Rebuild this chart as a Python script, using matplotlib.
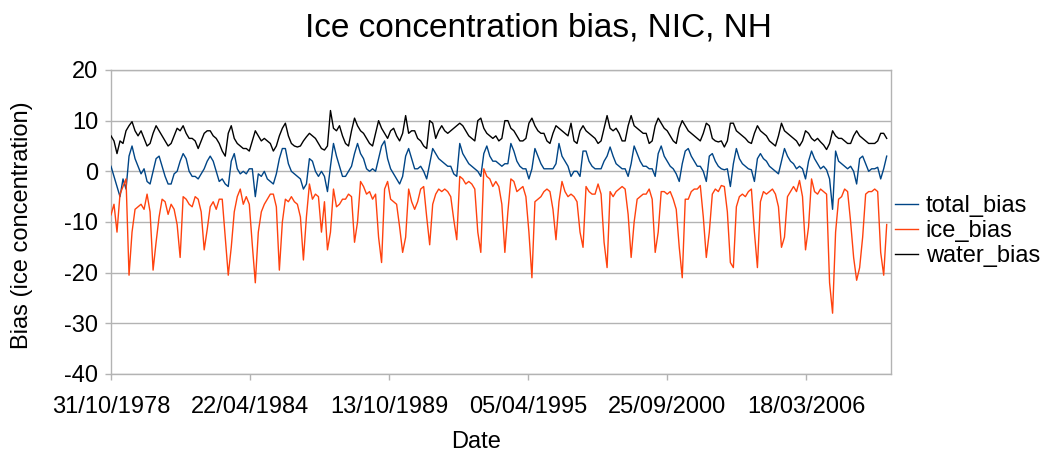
import pandas as pd
import matplotlib
matplotlib.use("Agg")
import matplotlib.pyplot as plt
import matplotlib.dates as mdates

# samples, evenly spaced from 31/10/1978 to 16/05/2009
start_date = "1978-10-31"
end_date = "2009-05-16"

water_bias = [
    7.0, 6.0, 3.5, 6.0, 5.5, 8.0, 9.0, 9.8, 8.0, 7.0, 8.0, 6.5, 5.0, 5.5, 7.5, 9.0, 8.0, 7.0, 6.0, 5.0, 5.5, 7.0, 8.5, 8.0, 9.0, 7.5, 6.5, 6.5, 6.0, 4.5, 6.0, 7.5, 8.0,
    8.0, 7.0, 6.5, 5.5, 4.0, 3.0, 7.5, 9.0, 6.5, 5.5, 5.0, 4.5, 4.5, 4.0, 6.0, 8.0, 7.0, 6.0, 6.5, 6.0, 5.5, 4.0, 5.0, 7.0, 8.5, 9.5, 7.0, 5.5, 5.0, 4.8, 5.0, 6.0,
    6.8, 7.5, 7.0, 6.5, 5.5, 4.5, 4.2, 5.0, 12.0, 8.5, 8.0, 9.0, 7.0, 5.5, 5.0, 8.0, 10.5, 9.0, 8.0, 7.5, 6.5, 5.5, 5.0, 7.5, 10.0, 8.5, 7.5, 6.5, 8.0, 8.5, 7.0, 6.0, 7.5,
    11.0, 7.5, 8.0, 8.0, 6.5, 6.0, 5.0, 4.5, 10.0, 9.5, 6.5, 8.0, 9.0, 8.0, 7.5, 8.0, 8.5, 9.0, 9.5, 9.0, 8.0, 7.0, 6.5, 6.0, 10.0, 10.5, 8.5, 7.5, 7.0, 6.5, 7.0, 6.0, 6.5,
    10.0, 10.0, 8.5, 8.0, 7.0, 6.0, 6.0, 6.5, 9.5, 10.5, 9.0, 8.0, 7.5, 7.5, 6.0, 5.5, 7.5, 9.0, 8.5, 8.0, 7.5, 7.0, 9.5, 6.0, 5.5, 8.0, 9.0, 8.0, 7.5, 7.0, 6.5, 5.5,
    6.0, 8.5, 11.0, 8.5, 8.0, 8.5, 7.5, 6.0, 6.0, 9.0, 11.0, 9.0, 8.5, 8.0, 7.5, 7.5, 5.5, 6.0, 9.0, 10.5, 9.5, 8.5, 8.0, 7.0, 6.0, 5.5, 8.5, 10.0, 9.0, 8.0, 7.5, 7.0, 6.5,
    6.0, 7.5, 9.5, 9.0, 6.5, 6.0, 5.8, 6.0, 4.8, 6.0, 9.5, 9.5, 8.0, 7.5, 7.0, 6.5, 5.8, 5.5, 7.5, 9.0, 8.0, 7.5, 7.0, 6.0, 5.5, 5.0, 7.0, 9.5, 8.0, 7.5, 7.0, 6.5, 6.0,
    5.0, 6.0, 8.0, 7.5, 6.5, 6.0, 6.5, 5.8, 5.2, 4.3, 5.5, 8.0, 7.0, 6.5, 6.5, 6.0, 5.5, 5.5, 7.0, 8.0, 7.0, 6.5, 6.0, 5.5, 5.5, 5.5, 6.0, 7.5, 7.5, 6.5,
]

total_bias = [
    1.0, -1.0, -3.0, -5.0, -1.5, -3.5, 3.0, 5.0, 2.5, 1.0, -0.5, 0.5, -2.0, -2.5, 0.0, 2.5, 3.0, 1.0, -1.0, -2.5, -2.5, -0.5, 0.0, 2.0, 3.5, 2.5, 0.0, -1.0, -1.0, -1.5, -0.5, 0.5, 2.0,
    3.0, 2.0, 0.0, -2.0, -1.5, -2.5, -3.0, 2.0, 3.5, 0.5, -0.5, 0.0, -0.5, 0.5, 0.5, -5.0, -0.5, -1.0, 0.0, -1.5, -2.0, -2.5, -0.5, 2.5, 4.5, 4.5, 1.5, 0.0, -0.5, -1.0, -1.5, -3.5,
    -2.5, 2.5, 2.0, 0.0, -1.0, 0.0, -1.0, -4.0, 1.0, 5.5, 3.0, 1.0, -1.0, -1.0, 0.0, 1.0, 3.5, 5.5, 3.5, 2.5, 0.5, 0.0, 0.5, 0.0, 2.5, 5.0, 6.0, 2.5, 0.5, -0.5, -1.5, -2.5, -1.0,
    3.0, 4.5, 2.5, 0.5, 0.5, 1.0, 0.0, -1.5, 1.5, 4.5, 3.5, 2.5, 2.0, 1.5, 1.0, 1.0, -0.5, -1.0, 5.5, 3.5, 2.5, 1.5, 1.0, 0.5, 0.0, -1.0, 3.5, 5.0, 3.0, 2.0, 2.0, 1.5, 1.0,
    1.5, 1.5, 5.5, 4.0, 2.0, 1.0, 0.5, 0.5, -1.5, 0.5, 4.5, 3.0, 1.5, 0.5, 0.5, 0.5, 0.5, 1.5, 5.5, 3.0, 2.0, 1.0, -1.0, 0.0, 0.0, -1.0, 4.0, 4.0, 2.0, 1.0, 0.5, 0.5,
    0.5, 2.0, 3.0, 4.8, 3.0, 1.5, 1.0, 0.5, 0.5, -1.0, 1.5, 5.0, 3.5, 2.0, 1.0, 1.0, 0.5, 0.5, -1.0, 3.5, 5.0, 3.0, 2.0, 1.0, 0.5, -0.5, -2.0, 1.5, 4.0, 4.5, 3.0, 2.0, 1.0,
    1.0, 0.0, -2.0, 3.0, 3.5, 2.0, 1.0, 0.5, 0.3, 0.5, -3.0, 1.5, 4.5, 2.5, 1.5, 1.0, 0.5, 0.3, -2.0, 2.5, 3.5, 2.5, 2.0, 1.0, 0.5, 0.0, -0.5, 2.0, 4.5, 3.0, 2.0, 1.5, 0.5,
    1.0, 0.5, -1.5, 2.0, 4.0, 2.5, 1.5, 0.5, 1.0, 0.3, -1.5, -7.5, 4.0, 2.0, 1.5, 1.0, 0.5, 1.0, 0.0, -2.5, 2.5, 3.0, 1.5, 0.0, 0.5, 0.5, 0.8, -1.5, 0.5, 3.0,
]

ice_bias = [
    -8.6, -6.5, -12.0, -4.5, -3.0, -1.5, -20.5, -12.0, -7.5, -7.0, -6.5, -7.5, -4.5, -8.0, -19.5, -14.0, -9.0, -5.5, -6.0, -8.5, -6.5, -7.5, -10.5, -17.0, -5.0, -5.5, -6.5, -7.0, -5.0, -5.5, -8.0, -15.5, -11.5,
    -7.0, -6.0, -7.5, -5.5, -5.5, -13.0, -20.5, -15.0, -8.0, -5.0, -3.5, -6.5, -5.0, -6.5, -14.5, -22.0, -12.0, -8.0, -6.5, -5.5, -4.5, -4.5, -7.0, -19.5, -10.0, -5.5, -6.0, -5.0, -6.0, -6.5, -9.0, -17.5,
    -9.0, -2.5, -5.5, -4.5, -5.0, -12.0, -6.0, -15.5, -12.0, -3.5, -7.0, -6.5, -5.5, -5.5, -4.5, -5.0, -14.0, -10.0, -2.0, -3.0, -4.5, -4.0, -5.5, -4.5, -13.0, -18.0, -3.5, -2.0, -5.5, -6.0, -6.5, -11.0, -16.0,
    -13.0, -3.5, -6.0, -7.5, -6.0, -3.5, -3.0, -9.0, -14.5, -6.5, -4.5, -3.5, -4.0, -3.5, -4.0, -5.0, -9.5, -13.5, -1.0, -1.5, -2.5, -2.0, -2.5, -3.5, -12.0, -16.0, 0.5, -1.0, -1.5, -3.0, -2.0, -3.0, -6.5,
    -16.0, -8.0, -1.5, -2.0, -4.0, -3.5, -3.0, -5.0, -12.0, -21.0, -6.0, -5.5, -5.0, -4.0, -3.5, -4.0, -7.5, -13.5, -6.0, -2.0, -4.0, -5.0, -4.5, -5.0, -6.0, -12.0, -15.0, -3.0, -4.0, -4.5, -4.5, -2.5,
    -4.5, -14.0, -19.0, -4.0, -5.0, -4.0, -3.5, -3.0, -3.5, -8.5, -17.0, -10.0, -5.5, -5.0, -4.5, -4.5, -3.5, -5.5, -16.0, -12.0, -4.0, -4.0, -4.5, -4.0, -5.5, -7.5, -15.0, -21.0, -5.5, -5.5, -4.0, -3.5, -3.5,
    -2.8, -9.0, -17.0, -12.0, -4.5, -3.5, -4.0, -2.8, -3.0, -8.0, -18.0, -19.0, -7.0, -5.0, -4.5, -5.0, -4.0, -3.5, -12.0, -19.0, -6.0, -4.0, -4.5, -4.0, -3.5, -4.5, -7.0, -15.0, -13.0, -5.0, -4.0, -3.0, -4.0,
    -1.8, -5.0, -15.5, -11.0, -1.5, -4.0, -4.5, -3.5, -4.0, -4.5, -22.0, -28.0, -12.0, -5.5, -5.0, -3.5, -4.0, -10.0, -17.0, -21.5, -19.0, -13.0, -4.5, -4.0, -4.0, -3.5, -4.0, -16.0, -20.5, -10.5,
]

tick_dates = ["1978-10-31", "1984-04-22", "1989-10-13", "1995-04-05", "2000-09-25", "2006-03-18"]
x_end = "2009-07-13"

GRID = "#b3b3b3"


def main():
    plt.rcParams["font.family"] = ["Liberation Sans", "DejaVu Sans"]
    plt.rcParams["axes.unicode_minus"] = False
    dates = pd.date_range(start_date, end_date, periods=len(water_bias))

    fig = plt.figure(figsize=(10.55, 4.53), dpi=100)
    ax = fig.add_axes([0.1052, 0.1744, 0.7391, 0.6711])

    ax.plot(dates, total_bias, color="#004586", lw=1.0, label="total_bias", zorder=3)
    ax.plot(dates, ice_bias, color="#ff420e", lw=1.0, label="ice_bias", zorder=3)
    ax.plot(dates, water_bias, color="black", lw=1.0, label="water_bias", zorder=4)

    ax.set_ylim(-40, 20)
    ax.set_yticks(range(-40, 21, 10))
    ax.set_xlim(pd.Timestamp(start_date), pd.Timestamp(x_end))
    ticks = pd.to_datetime(tick_dates)
    ax.set_xticks(ticks)
    ax.xaxis.set_major_formatter(mdates.DateFormatter("%d/%m/%Y"))

    ax.grid(axis="y", color=GRID, lw=1.0)
    ax.set_axisbelow(True)
    for s in ax.spines.values():
        s.set_color(GRID)
        s.set_linewidth(1.0)
    ax.tick_params(axis="both", colors=GRID, labelcolor="black", labelsize=17, length=4, width=1.0)
    ax.tick_params(axis="x", pad=12)
    ax.tick_params(axis="y", pad=5)

    fig.text(0.51, 0.938, "Ice concentration bias, NIC, NH", ha="center", va="center", fontsize=24)
    fig.text(0.451, 0.024, "Date", ha="center", va="center", fontsize=17)
    fig.text(0.021, 0.503, "Bias (ice concentration)", ha="center", va="center", rotation=90, fontsize=17)

    fig.legend(loc="center left", bbox_to_anchor=(0.837, 0.49), frameon=False, fontsize=17,
               handlelength=1.0, handletextpad=0.3, labelspacing=0.12, borderpad=0)

    fig.savefig("out.png", dpi=100)


if __name__ == "__main__":
    main()
